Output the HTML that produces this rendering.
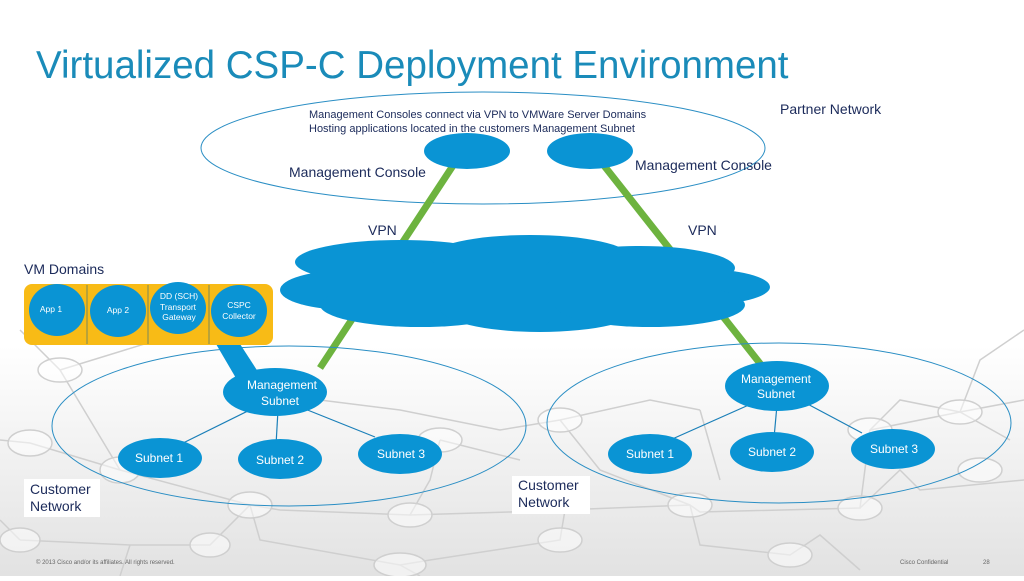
<!DOCTYPE html>
<html><head><style>
body{margin:0;width:1024px;height:576px;overflow:hidden;font-family:"Liberation Sans",sans-serif;}
</style></head><body>
<svg width="1024" height="576" viewBox="0 0 1024 576" xmlns="http://www.w3.org/2000/svg" font-family="Liberation Sans, sans-serif">
<defs>
<linearGradient id="bg" x1="0" y1="0" x2="0" y2="1">
<stop offset="0" stop-color="#ffffff"/><stop offset="0.6" stop-color="#ffffff"/><stop offset="1" stop-color="#e2e2e2"/>
</linearGradient>
</defs>
<rect width="1024" height="576" fill="url(#bg)"/>
<g stroke="#cfcfcf" stroke-width="1.5" fill="none">
<path d="M0,440 L30,443 L120,470 L250,505 L280,510 L410,515 L510,512 L690,505 L700,512 L860,508 L870,430 L960,412 L1024,400"/>
<path d="M120,470 L60,370 L20,330 M60,370 L190,330 L250,360 M250,505 L210,545 L130,545 L20,540 M250,505 L260,540 L400,565 L430,560 L560,540 L570,480 M410,515 L430,480 L440,440 M690,505 L700,545 L790,555 L820,535 L860,570 M860,508 L900,470 L920,490 L1024,480 M870,430 L900,400 L960,412 L1010,440 M960,412 L980,360 L1024,330 M130,545 L120,576 M400,565 L420,576 M0,520 L20,540"/>
<path d="M320,400 L400,410 L500,430 L560,420 L650,400 L700,410 M560,420 L600,470 L690,505 M440,440 L520,460 M700,410 L720,480"/>
</g>
<g stroke="#cfcfcf" stroke-width="1.5" fill="#fff" fill-opacity="0.5">
<ellipse cx="30" cy="443" rx="22" ry="13"/><ellipse cx="120" cy="470" rx="20" ry="13"/><ellipse cx="250" cy="505" rx="22" ry="13"/>
<ellipse cx="210" cy="545" rx="20" ry="12"/><ellipse cx="20" cy="540" rx="20" ry="12"/><ellipse cx="400" cy="565" rx="26" ry="12"/>
<ellipse cx="410" cy="515" rx="22" ry="12"/><ellipse cx="560" cy="540" rx="22" ry="12"/><ellipse cx="690" cy="505" rx="22" ry="12"/>
<ellipse cx="790" cy="555" rx="22" ry="12"/><ellipse cx="860" cy="508" rx="22" ry="12"/><ellipse cx="870" cy="430" rx="22" ry="12"/>
<ellipse cx="960" cy="412" rx="22" ry="12"/><ellipse cx="980" cy="470" rx="22" ry="12"/><ellipse cx="560" cy="420" rx="22" ry="12"/>
<ellipse cx="190" cy="330" rx="30" ry="12"/><ellipse cx="60" cy="370" rx="22" ry="12"/><ellipse cx="440" cy="440" rx="22" ry="12"/>
</g>
<text x="36" y="78" font-size="38.5" fill="#1a8bb9">Virtualized CSP-C Deployment Environment</text>
<ellipse cx="483" cy="148" rx="282" ry="56" fill="none" stroke="#2a8ec4" stroke-width="1"/>
<text x="309" y="118" font-size="11" fill="#1b2a5a">Management Consoles connect via VPN to VMWare Server Domains</text>
<text x="309" y="132" font-size="11" fill="#1b2a5a">Hosting applications located in the customers Management Subnet</text>
<text x="780" y="114" font-size="14" fill="#1b2a5a">Partner Network</text>
<line x1="458" y1="158" x2="320" y2="368" stroke="#6db33f" stroke-width="7"/>
<line x1="598" y1="158" x2="762" y2="366" stroke="#6db33f" stroke-width="7"/>
<ellipse cx="467" cy="151" rx="43" ry="18" fill="#0a94d4"/>
<ellipse cx="590" cy="151" rx="43" ry="18" fill="#0a94d4"/>
<text x="289" y="177" font-size="14" fill="#1b2a5a">Management Console</text>
<text x="635" y="170" font-size="14" fill="#1b2a5a">Management Console</text>
<text x="368" y="235" font-size="14" fill="#1b2a5a">VPN</text>
<text x="688" y="235" font-size="14" fill="#1b2a5a">VPN</text>
<g fill="#0a94d4">
<ellipse cx="400" cy="262" rx="105" ry="22"/>
<ellipse cx="530" cy="257" rx="100" ry="22"/>
<ellipse cx="640" cy="268" rx="95" ry="22"/>
<ellipse cx="700" cy="287" rx="70" ry="18"/>
<ellipse cx="350" cy="290" rx="70" ry="20"/>
<ellipse cx="420" cy="305" rx="100" ry="22"/>
<ellipse cx="540" cy="308" rx="100" ry="24"/>
<ellipse cx="650" cy="305" rx="95" ry="22"/>
<rect x="330" y="265" width="390" height="40"/>
</g>
<ellipse cx="289" cy="426" rx="237" ry="80" fill="none" stroke="#2a8ec4" stroke-width="1"/>
<ellipse cx="779" cy="423" rx="232" ry="80" fill="none" stroke="#2a8ec4" stroke-width="1"/>
<text x="24" y="274" font-size="14" fill="#1b2a5a">VM Domains</text>
<polygon points="216,344 240,344 262,378 240,385" fill="#0a94d4"/>
<rect x="24" y="284" width="249" height="61" rx="8" fill="#f8bb16"/>
<g stroke="#7a8a5a" stroke-width="1"><line x1="87" y1="285" x2="87" y2="344"/><line x1="148" y1="285" x2="148" y2="344"/><line x1="209" y1="285" x2="209" y2="344"/></g>
<g fill="#0a94d4">
<ellipse cx="57" cy="310" rx="28" ry="26"/><ellipse cx="118" cy="311" rx="28" ry="26"/>
<ellipse cx="178" cy="308" rx="28" ry="26"/><ellipse cx="239" cy="311" rx="28" ry="26"/>
</g>
<g fill="#fff" font-size="8.5" text-anchor="middle">
<text x="51" y="312">App 1</text><text x="118" y="313">App 2</text>
<text x="179" y="299">DD (SCH)</text><text x="178" y="310">Transport</text><text x="179" y="320">Gateway</text>
<text x="239" y="308">CSPC</text><text x="239" y="319">Collector</text>
</g>
<g stroke="#1a7fb8" stroke-width="1.2">
<line x1="260" y1="405" x2="175" y2="447"/><line x1="278" y1="410" x2="276" y2="445"/><line x1="300" y1="407" x2="375" y2="437"/>
<line x1="760" y1="400" x2="670" y2="440"/><line x1="777" y1="405" x2="774" y2="438"/><line x1="800" y1="400" x2="862" y2="433"/>
</g>
<g fill="#0a94d4">
<ellipse cx="275" cy="392" rx="52" ry="24"/>
<ellipse cx="160" cy="458" rx="42" ry="20"/><ellipse cx="280" cy="459" rx="42" ry="20"/><ellipse cx="400" cy="454" rx="42" ry="20"/>
<ellipse cx="777" cy="386" rx="52" ry="25"/>
<ellipse cx="650" cy="454" rx="42" ry="20"/><ellipse cx="772" cy="452" rx="42" ry="20"/><ellipse cx="893" cy="449" rx="42" ry="20"/>
</g>
<g fill="#fff" font-size="12" text-anchor="middle">
<text x="282" y="389">Management</text><text x="280" y="405">Subnet</text>
<text x="159" y="462">Subnet 1</text><text x="280" y="464">Subnet 2</text><text x="401" y="458">Subnet 3</text>
<text x="776" y="383">Management</text><text x="776" y="398">Subnet</text>
<text x="650" y="458">Subnet 1</text><text x="772" y="456">Subnet 2</text><text x="894" y="453">Subnet 3</text>
</g>
<rect x="24" y="479" width="76" height="38" fill="#fff"/>
<text x="30" y="494" font-size="14" fill="#1b2a5a">Customer</text>
<text x="30" y="511" font-size="14" fill="#1b2a5a">Network</text>
<rect x="512" y="476" width="78" height="38" fill="#fff"/>
<text x="518" y="490" font-size="14" fill="#1b2a5a">Customer</text>
<text x="518" y="507" font-size="14" fill="#1b2a5a">Network</text>
<text x="36" y="564" font-size="6" fill="#666">© 2013 Cisco and/or its affiliates. All rights reserved.</text>
<text x="900" y="564" font-size="6" fill="#666">Cisco Confidential</text>
<text x="983" y="564" font-size="6" fill="#666">28</text>
</svg>
</body></html>
